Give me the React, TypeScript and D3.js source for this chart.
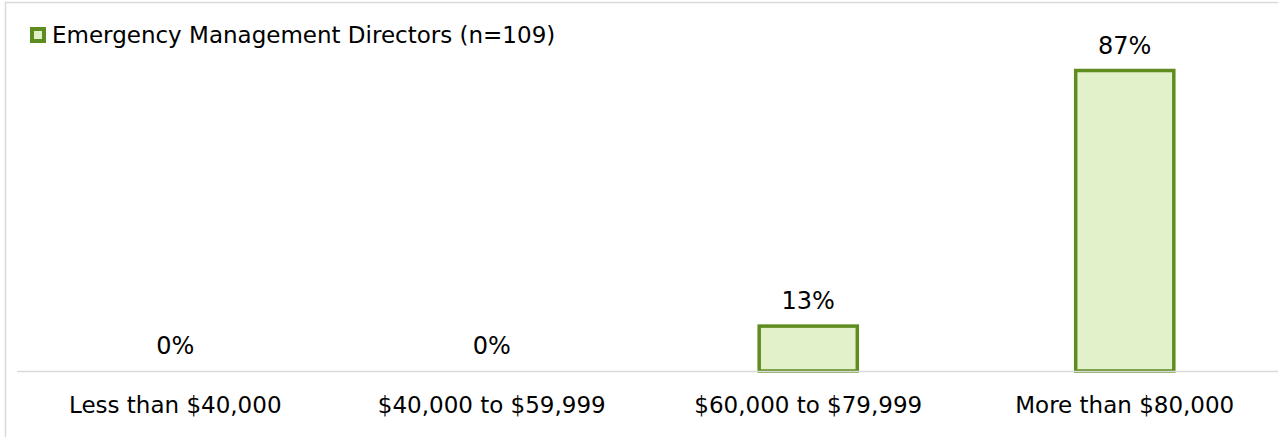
import * as d3 from 'd3';

const categories = ['Less than $40,000', '$40,000 to $59,999', '$60,000 to $79,999', 'More than $80,000'];
const values = [0, 0, 0.13, 0.87];
const seriesName = 'Emergency Management Directors (n=109)';

const W = 1278;
const H = 437;
const FONT = '"DejaVu Sans", sans-serif';
const STROKE = '#5f8c1e';
const FILL = '#e3f1cb';

const App = () => {
    const x = d3.scaleBand<string>().domain(categories).range([17, 1283]).padding(0);
    const y = d3.scaleLinear().domain([0, 1]).range([371, 25.6]);
    const barW = x.bandwidth() * 0.31;
    const fmt = d3.format('.0%');

    return (
        <svg width={W} height={H} style={{position: 'absolute', left: 0, top: 0, background: '#fff'}}
             fontFamily={FONT}>
            <rect x={5.5} y={2.5} width={W + 10} height={H + 10} fill="#fff" stroke="#d9d9d9" strokeWidth={1.5}/>
            {/* legend */}
            <rect x={32} y={29} width={12} height={12} fill={FILL} stroke={STROKE} strokeWidth={4}/>
            <text x={52} y={43} fontSize={23} fill="#000">{seriesName}</text>

            {categories.map((c, i) => {
                const cx = x(c)! + x.bandwidth() / 2;
                const top = y(values[i]);
                return (
                    <g key={c}>
                        {values[i] > 0 && (
                            <rect x={cx - barW / 2} y={top} width={barW} height={y(0) - top}
                                  fill={FILL} stroke={STROKE} strokeWidth={3.5}/>
                        )}
                        <text x={cx} y={top - 17} textAnchor="middle" fontSize={24} fill="#000">{fmt(values[i])}</text>
                        <text x={cx} y={413} textAnchor="middle" fontSize={23} fill="#000">{c}</text>
                    </g>
                );
            })}
            <line x1={17} x2={W} y1={371.5} y2={371.5} stroke="#d9d9d9" strokeWidth={1.5}/>
        </svg>
    );
};

export default App;
